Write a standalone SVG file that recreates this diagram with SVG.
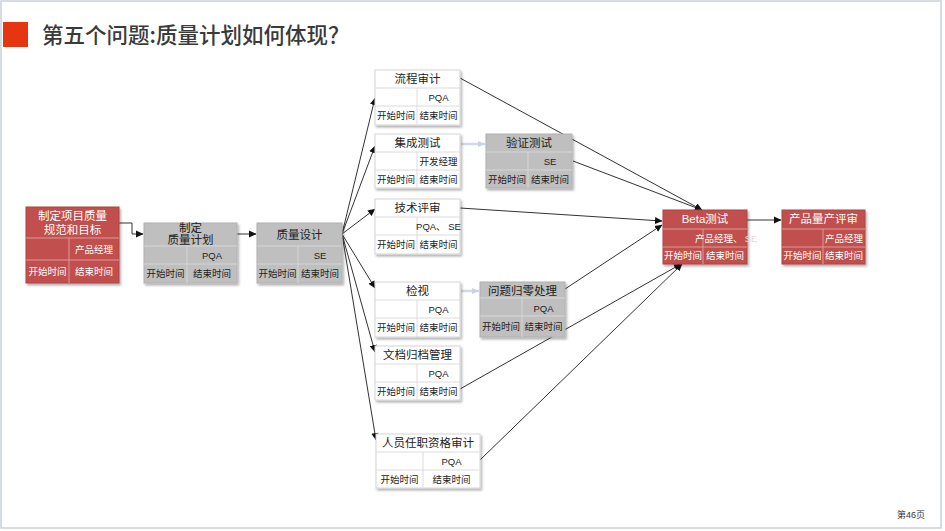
<svg xmlns="http://www.w3.org/2000/svg" width="945" height="531" viewBox="0 0 945 531">
<defs>
<style>
text{font-family:"Liberation Sans","Noto Sans CJK SC",sans-serif;text-anchor:middle}
.ttl{font-family:"Noto Sans CJK SC",sans-serif;font-size:21.5px;font-weight:500;fill:#3a3a3a;text-anchor:start}
.h{font-size:11.5px}
.c{font-size:9.5px}
.white rect.b{fill:#fff;stroke:#d4d4d4;stroke-width:1}
.white line{stroke:#dcdcdc;stroke-width:1}
.white text{fill:#222}
.gray rect.b{fill:#bfbfbf;stroke:#b0b0b0;stroke-width:1}
.gray line{stroke:#d6d6d6;stroke-width:1}
.gray text{fill:#222}
.red rect.b{fill:#c0504d;stroke:#b04542;stroke-width:1}
.red line{stroke:#dc9a98;stroke-width:1}
.red text{fill:#fff}
.sh{filter:url(#ds)}
.con line,.con polyline{stroke:#333;stroke-width:1;fill:none;marker-end:url(#ah)}
.con .lt{stroke:#d0dbe8;stroke-width:2.5;marker-end:url(#ahl)}
</style>
<filter id="ds" x="-10%" y="-10%" width="130%" height="130%">
<feDropShadow dx="1.5" dy="2" stdDeviation="1" flood-color="#000" flood-opacity="0.3"/>
</filter>
<marker id="ah" markerWidth="8" markerHeight="8" refX="7" refY="4" orient="auto" markerUnits="userSpaceOnUse">
<path d="M0,0.5 L7.5,4 L0,7.5 Z" fill="#111"/>
</marker>
<marker id="ahl" markerWidth="8" markerHeight="8" refX="7" refY="4" orient="auto" markerUnits="userSpaceOnUse">
<path d="M0,1 L7,4 L0,7 Z" fill="#c6d3e6"/>
</marker>
</defs>
<rect x="0" y="0" width="945" height="531" fill="#fff"/>
<rect x="1" y="1" width="940" height="527" fill="none" stroke="#c9d1d9" stroke-width="1.5"/>

<g id="title">
<rect x="3" y="22" width="25" height="25" fill="#e53511"/>
<text class="ttl" x="42" y="43">第五个问题:质量计划如何体现？</text>
</g>

<g id="connectors" class="con">
<polyline points="119,223 132,223 132,234 143,234"/>
<line x1="237" y1="234" x2="256" y2="234"/>
<line x1="342" y1="234" x2="375" y2="98"/>
<line x1="342" y1="234" x2="375" y2="146"/>
<line x1="342" y1="234" x2="375" y2="209"/>
<line x1="342" y1="234" x2="375" y2="288"/>
<line x1="342" y1="234" x2="375" y2="352"/>
<line x1="342" y1="234" x2="376" y2="440"/>
<line class="lt" x1="461" y1="144" x2="485" y2="144"/>
<line class="lt" x1="461" y1="291" x2="479" y2="291"/>
<line x1="460" y1="78" x2="702" y2="210"/>
<line x1="573" y1="161" x2="702" y2="210"/>
<line x1="460" y1="208" x2="662" y2="221"/>
<line x1="565" y1="289" x2="662" y2="225"/>
<line x1="460" y1="389" x2="681" y2="264"/>
<line x1="480" y1="460" x2="682" y2="264"/>
<line x1="747" y1="220" x2="781" y2="220"/>
</g>

<g id="n-spec" class="red">
<rect class="b sh" x="26" y="207" width="93" height="76"/>
<line x1="26" y1="238" x2="119" y2="238"/><line x1="26" y1="260" x2="119" y2="260"/><line x1="69" y1="238" x2="69" y2="283"/>
<text class="h" x="72.5" y="220">制定项目质量</text><text class="h" x="72.5" y="234">规范和目标</text>
<text class="c" x="94" y="253">产品经理</text>
<text class="c" x="47.5" y="275">开始时间</text><text class="c" x="94" y="275">结束时间</text>
</g>

<g id="n-plan" class="gray">
<rect class="b sh" x="144" y="223" width="93" height="60"/>
<line x1="144" y1="246" x2="237" y2="246"/><line x1="144" y1="264" x2="237" y2="264"/><line x1="187" y1="246" x2="187" y2="283"/>
<text class="h" x="190.5" y="232">制定</text><text class="h" x="190.5" y="244">质量计划</text>
<text class="c" x="212" y="259">PQA</text>
<text class="c" x="165.5" y="277">开始时间</text><text class="c" x="212" y="277">结束时间</text>
</g>

<g id="n-design" class="gray">
<rect class="b sh" x="257" y="223" width="85" height="60"/>
<line x1="257" y1="246" x2="342" y2="246"/><line x1="257" y1="264" x2="342" y2="264"/><line x1="298" y1="246" x2="298" y2="283"/>
<text class="h" x="299.5" y="239">质量设计</text>
<text class="c" x="320" y="259">SE</text>
<text class="c" x="277.5" y="277">开始时间</text><text class="c" x="320" y="277">结束时间</text>
</g>

<g id="n-audit" class="white">
<rect class="b sh" x="375" y="70" width="85" height="55"/>
<line x1="375" y1="88" x2="460" y2="88"/><line x1="375" y1="106" x2="460" y2="106"/><line x1="417" y1="88" x2="417" y2="125"/>
<text class="h" x="417.5" y="83">流程审计</text>
<text class="c" x="438.5" y="101">PQA</text>
<text class="c" x="396" y="119">开始时间</text><text class="c" x="438.5" y="119">结束时间</text>
</g>

<g id="n-integ" class="white">
<rect class="b sh" x="375" y="134" width="85" height="54"/>
<line x1="375" y1="152" x2="460" y2="152"/><line x1="375" y1="170" x2="460" y2="170"/><line x1="417" y1="152" x2="417" y2="188"/>
<text class="h" x="417.5" y="147">集成测试</text>
<text class="c" x="438.5" y="165">开发经理</text>
<text class="c" x="396" y="183">开始时间</text><text class="c" x="438.5" y="183">结束时间</text>
</g>

<g id="n-verify" class="gray">
<rect class="b sh" x="486" y="134" width="86" height="54"/>
<line x1="486" y1="152" x2="572" y2="152"/><line x1="486" y1="170" x2="572" y2="170"/><line x1="528" y1="152" x2="528" y2="188"/>
<text class="h" x="529" y="147">验证测试</text>
<text class="c" x="550" y="165">SE</text>
<text class="c" x="507" y="183">开始时间</text><text class="c" x="550" y="183">结束时间</text>
</g>

<g id="n-review" class="white">
<rect class="b sh" x="375" y="199" width="85" height="55"/>
<line x1="375" y1="217" x2="460" y2="217"/><line x1="375" y1="235" x2="460" y2="235"/><line x1="417" y1="217" x2="417" y2="254"/>
<text class="h" x="417.5" y="212">技术评审</text>
<text class="c" x="438.5" y="230">PQA、 SE</text>
<text class="c" x="396" y="248">开始时间</text><text class="c" x="438.5" y="248">结束时间</text>
</g>

<g id="n-inspect" class="white">
<rect class="b sh" x="375" y="282" width="85" height="55"/>
<line x1="375" y1="300" x2="460" y2="300"/><line x1="375" y1="318" x2="460" y2="318"/><line x1="417" y1="300" x2="417" y2="337"/>
<text class="h" x="417.5" y="295">检视</text>
<text class="c" x="438.5" y="313">PQA</text>
<text class="c" x="396" y="331">开始时间</text><text class="c" x="438.5" y="331">结束时间</text>
</g>

<g id="n-zero" class="gray">
<rect class="b sh" x="480" y="282" width="85" height="55"/>
<line x1="480" y1="298" x2="565" y2="298"/><line x1="480" y1="316" x2="565" y2="316"/><line x1="522" y1="298" x2="522" y2="337"/>
<text class="h" x="522.5" y="295">问题归零处理</text>
<text class="c" x="543.5" y="312">PQA</text>
<text class="c" x="501" y="330">开始时间</text><text class="c" x="543.5" y="330">结束时间</text>
</g>

<g id="n-doc" class="white">
<rect class="b sh" x="375" y="346" width="85" height="54"/>
<line x1="375" y1="364" x2="460" y2="364"/><line x1="375" y1="382" x2="460" y2="382"/><line x1="417" y1="364" x2="417" y2="400"/>
<text class="h" x="417.5" y="359">文档归档管理</text>
<text class="c" x="438.5" y="377">PQA</text>
<text class="c" x="396" y="395">开始时间</text><text class="c" x="438.5" y="395">结束时间</text>
</g>

<g id="n-staff" class="white">
<rect class="b sh" x="376" y="434" width="104" height="54"/>
<line x1="376" y1="452" x2="480" y2="452"/><line x1="376" y1="470" x2="480" y2="470"/><line x1="423" y1="452" x2="423" y2="488"/>
<text class="h" x="428" y="447">人员任职资格审计</text>
<text class="c" x="451.5" y="465">PQA</text>
<text class="c" x="399.5" y="483">开始时间</text><text class="c" x="451.5" y="483">结束时间</text>
</g>

<g id="n-beta" class="red">
<rect class="b sh" x="663" y="210" width="84" height="54"/>
<line x1="663" y1="229" x2="747" y2="229"/><line x1="663" y1="247" x2="747" y2="247"/><line x1="703" y1="229" x2="703" y2="264"/>
<text class="h" x="705" y="223">Beta测试</text>
<text class="c" x="695" y="242" style="text-anchor:start">产品经理、</text>
<text class="c" x="751" y="242" style="fill:#ead8d8">SE</text>
<text class="c" x="683" y="259">开始时间</text><text class="c" x="725" y="259">结束时间</text>
</g>

<g id="n-mass" class="red">
<rect class="b sh" x="782" y="210" width="83" height="54"/>
<line x1="782" y1="229" x2="865" y2="229"/><line x1="782" y1="247" x2="865" y2="247"/><line x1="823" y1="229" x2="823" y2="264"/>
<text class="h" x="823.5" y="223">产品量产评审</text>
<text class="c" x="844" y="242">产品经理</text>
<text class="c" x="802.5" y="259">开始时间</text><text class="c" x="844" y="259">结束时间</text>
</g>

<g id="page">
<text x="911" y="518" style="font-size:9px;fill:#333">第46页</text>
</g>
</svg>
